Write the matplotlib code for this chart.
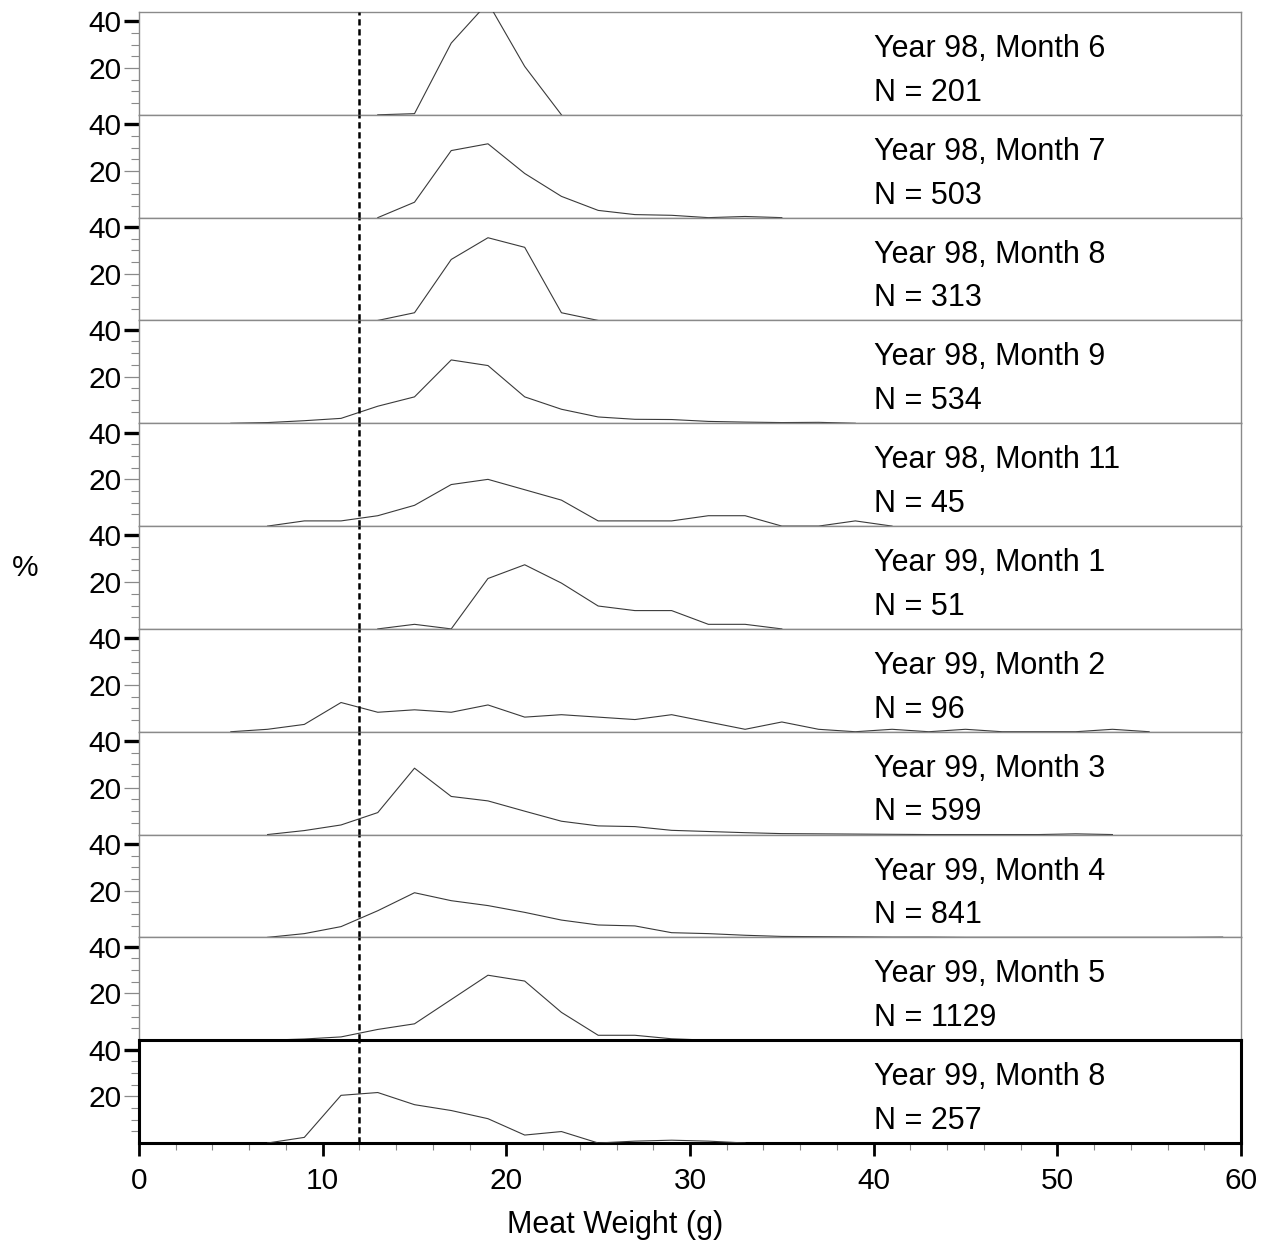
"""Stacked meat-weight frequency panels by sampling month."""

import matplotlib

matplotlib.use("Agg")

import matplotlib.pyplot as plt

plt.rcParams["font.family"] = ["Liberation Sans", "DejaVu Sans"]

# panel labels (top to bottom)
titles = [
    "Year 98, Month 6", "Year 98, Month 7", "Year 98, Month 8", "Year 98, Month 9",
    "Year 98, Month 11", "Year 99, Month 1", "Year 99, Month 2", "Year 99, Month 3",
    "Year 99, Month 4", "Year 99, Month 5", "Year 99, Month 8",
]
sample_n = [201, 503, 313, 534, 45, 51, 96, 599, 841, 1129, 257]

# bin centres (g) and percent frequency per panel
x_9806 = [13, 15, 17, 19, 21, 23]
y_9806 = [0, 0.5, 30.7, 48.0, 20.7, 0]
x_9807 = list(range(13, 37, 2))
y_9807 = [0, 6.6, 28.7, 31.6, 18.9, 9.1, 3.1, 1.3, 1.0, 0, 0.5, 0]
x_9808 = list(range(13, 27, 2))
y_9808 = [0, 3.3, 26.1, 35.4, 31.3, 3.3, 0]
x_9809 = list(range(5, 41, 2))
y_9809 = [0, 0.3, 1.1, 2.1, 7.3, 11.3, 27.1, 24.7, 11.3, 6.0, 2.7, 1.7, 1.6, 0.8,
          0.5, 0.3, 0.4, 0]
x_9811 = list(range(7, 43, 2))
y_9811 = [0, 2.22, 2.22, 4.44, 8.89, 17.78, 20.0, 15.56, 11.11, 2.22, 2.22, 2.22,
          4.44, 4.44, 0, 0, 2.22, 0]
x_9901 = list(range(13, 37, 2))
y_9901 = [0, 1.96, 0, 21.57, 27.45, 19.61, 9.8, 7.84, 7.84, 1.96, 1.96, 0]
x_9902 = list(range(5, 57, 2))
y_9902 = [0, 1.04, 3.13, 12.5, 8.33, 9.38, 8.33, 11.46, 6.25, 7.29, 6.25, 5.21,
          7.29, 4.17, 1.04, 4.17, 1.04, 0, 1.04, 0, 1.04, 0, 0, 0, 1.04, 0]
x_9903 = list(range(7, 55, 2))
y_9903 = [0, 1.7, 4.1, 9.4, 28.4, 16.3, 14.4, 10.0, 5.7, 3.7, 3.4, 1.8, 1.3, 0.8,
          0.4, 0.3, 0.2, 0.1, 0, 0, 0, 0, 0.3, 0]
x_9904 = list(range(7, 61, 2))
y_9904 = [0, 1.6, 4.6, 11.4, 19.1, 15.7, 13.6, 10.7, 7.4, 5.3, 4.9, 2.0, 1.6, 0.9,
          0.4, 0.3, 0.2, 0.1, 0.1, 0, 0, 0, 0, 0, 0, 0, 0.1]
x_9905 = list(range(7, 33, 2))
y_9905 = [0, 0.5, 1.4, 4.6, 7.0, 17.4, 27.8, 25.3, 11.9, 2.1, 2.1, 0.6, 0]
x_9908 = list(range(7, 35, 2))
y_9908 = [0, 2.4, 20.4, 21.6, 16.4, 13.9, 10.4, 3.4, 4.9, 0, 0.8, 1.2, 0.8, 0]

series_x = [x_9806, x_9807, x_9808, x_9809, x_9811, x_9901, x_9902, x_9903,
            x_9904, x_9905, x_9908]
series_y = [y_9806, y_9807, y_9808, y_9809, y_9811, y_9901, y_9902, y_9903,
            y_9904, y_9905, y_9908]

cutoff = 12  # dashed reference weight

W, H = 1270, 1247
fig = plt.figure(figsize=(W / 100, H / 100), dpi=100)
top_px, bot_px = 12, 1143
left_px, right_px = 139, 1241
n = len(titles)
ph = (bot_px - top_px) / n

gray = "#8a8a8a"
label_fs = 22
tick_fs = 21.5

for i in range(n):
    y0 = 1 - (top_px + (i + 1) * ph) / H
    ax = fig.add_axes([left_px / W, y0, (right_px - left_px) / W, ph / H])
    last = i == n - 1

    ax.plot(series_x[i], series_y[i], color="#3a3a3a", lw=0.8, zorder=3)
    ax.axvline(cutoff, color="black", lw=1.8, ls=(0, (2.5, 1.5)), zorder=4)
    ax.text(40, 0.64, titles[i], transform=ax.get_xaxis_transform(),
            fontsize=label_fs, va="center", ha="left")
    ax.text(40, 0.215, f"N = {sample_n[i]}", transform=ax.get_xaxis_transform(),
            fontsize=label_fs, va="center", ha="left")

    ax.set_xlim(0, 60)
    ax.set_ylim(0, 44)
    for sp in ax.spines.values():
        if last:
            sp.set_color("black")
            sp.set_linewidth(2.2)
        else:
            sp.set_color(gray)
            sp.set_linewidth(1.0)

    ax.set_yticks([20, 40])
    ax.set_yticks([5, 10, 15, 25, 30, 35], minor=True)
    ax.tick_params(axis="y", which="major", length=11, pad=1.5, labelsize=tick_fs)
    ax.tick_params(axis="y", which="minor", length=6, width=0.8, color=gray)
    mt = ax.yaxis.get_major_ticks()
    mt[0].tick1line.set_markeredgecolor(gray)
    mt[0].tick1line.set_markeredgewidth(0.9)
    mt[1].tick1line.set_markeredgecolor("black")
    mt[1].tick1line.set_markeredgewidth(2.4)

    if last:
        ax.set_xticks(range(0, 61, 10))
        ax.set_xticks(range(0, 61, 2), minor=True)
        ax.tick_params(axis="x", which="major", length=9.5, width=2, pad=8,
                       labelsize=tick_fs)
        ax.tick_params(axis="x", which="minor", length=5, width=0.8, color=gray)
    else:
        ax.set_xticks([])
        ax.set_xticks([], minor=True)

fig.text(25 / W, 1 - 568 / H, "%", fontsize=tick_fs, ha="center", va="center")
fig.text(615 / W, 1 - 1225 / H, "Meat Weight (g)", fontsize=label_fs,
         ha="center", va="center")

fig.savefig("out.png", dpi=100)
